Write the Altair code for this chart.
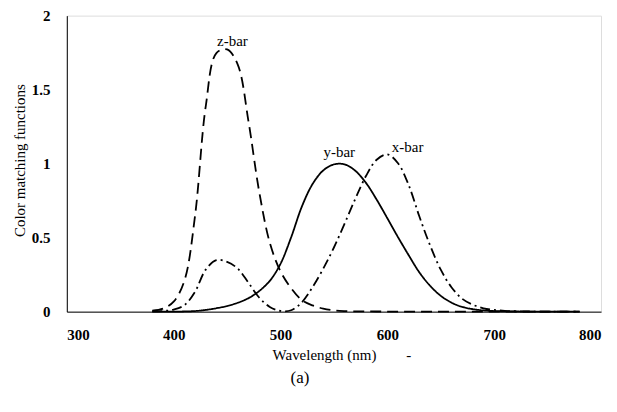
import altair as alt
import pandas as pd

wavelength = list(range(380, 790, 10))
x_bar = [0.001368, 0.004243, 0.01431, 0.04351, 0.13438, 0.2839, 0.34828, 0.3362, 0.2908, 0.19536,
         0.09564, 0.03201, 0.0049, 0.0093, 0.06327, 0.1655, 0.2904, 0.43345, 0.5945, 0.7621,
         0.9163, 1.0263, 1.0622, 1.0026, 0.85445, 0.6424, 0.4479, 0.2835, 0.1649, 0.0874,
         0.04677, 0.0227, 0.011359, 0.00579, 0.002899, 0.00144, 0.00069, 0.000332, 0.000166,
         0.000083, 0.000042]
y_bar = [0.000039, 0.00012, 0.000396, 0.00121, 0.004, 0.0116, 0.023, 0.038, 0.06, 0.09098,
         0.13902, 0.20802, 0.323, 0.503, 0.71, 0.862, 0.954, 0.99495, 0.995, 0.952,
         0.87, 0.757, 0.631, 0.503, 0.381, 0.265, 0.175, 0.107, 0.061, 0.032,
         0.017, 0.00821, 0.004102, 0.002091, 0.001047, 0.00052, 0.000249, 0.00012, 0.00006,
         0.00003, 0.000015]
z_bar = [0.00645, 0.02005, 0.06785, 0.2074, 0.6456, 1.3856, 1.74706, 1.77211, 1.6692, 1.28764,
         0.81295, 0.46518, 0.272, 0.1582, 0.07825, 0.04216, 0.0203, 0.00875, 0.0039, 0.0021,
         0.00165, 0.0011, 0.0008, 0.00034, 0.00019, 0.00005, 0.00002, 0, 0, 0,
         0, 0, 0, 0, 0, 0, 0, 0, 0, 0, 0]

series_names = ["x-bar", "y-bar", "z-bar"]
label_x = [619, 555, 455]
label_y = [1.11, 1.08, 1.83]

x_ticks = [300, 400, 500, 600, 700, 800]
y_ticks = [0, 0.5, 1, 1.5, 2]

rows = []
for name, vals in zip(series_names, [x_bar, y_bar, z_bar]):
    for w, v in zip(wavelength, vals):
        rows.append({"wavelength": w, "value": v, "series": name})
df = pd.DataFrame(rows)
labels = pd.DataFrame({"series": series_names, "wavelength": label_x, "value": label_y})

FONT = "Liberation Serif"

xscale = alt.Scale(domain=[300, 800], nice=False)
yscale = alt.Scale(domain=[0, 2], nice=False)

lines = alt.Chart(df).mark_line(color="black", strokeWidth=1.8, interpolate="catmull-rom").encode(
    x=alt.X("wavelength:Q", scale=xscale,
            axis=alt.Axis(values=x_ticks, title="Wavelength (nm)\u00a0\u00a0\u00a0\u00a0\u00a0\u00a0\u00a0\u00a0-",
                          grid=False, tickSize=0, labelPadding=16, labelFontSize=15,
                          labelFontWeight="bold", labelFont=FONT, labelColor="black",
                          titleFont=FONT, titleFontSize=15, titleFontWeight="normal",
                          titleColor="black", titleAlign="left", titleAnchor="start",
                          titleX=206, titleY=36, domainColor="black")),
    y=alt.Y("value:Q", scale=yscale,
            axis=alt.Axis(values=y_ticks, title="Color matching functions", format="~g",
                          grid=False, tickSize=0, labelPadding=17, labelFontSize=15,
                          labelFontWeight="bold", labelFont=FONT, labelColor="black",
                          titleFont=FONT, titleFontSize=15, titleFontWeight="normal",
                          titleColor="black", titleX=-47, titleY=145, titleBaseline="middle",
                          domainColor="black")),
    strokeDash=alt.StrokeDash("series:N",
                              scale=alt.Scale(domain=series_names,
                                              range=[[10, 4, 2, 4], [1, 0], [11, 6]]),
                              legend=None),
    detail="series:N",
)

text = alt.Chart(labels).mark_text(font=FONT, fontSize=15, color="black", baseline="middle").encode(
    x=alt.X("wavelength:Q", scale=xscale),
    y=alt.Y("value:Q", scale=yscale),
    text="series:N",
)

chart = alt.layer(lines, text).properties(
    width=536,
    height=297,
    autosize=alt.AutoSizeParams(type="none"),
    padding={"left": 59, "top": 7, "right": 8, "bottom": 90},
    title=alt.TitleParams(text="(a)", orient="bottom", anchor="middle", dx=-34, offset=8,
                          font=FONT, fontSize=17, fontWeight="normal", color="black",
                          baseline="top"),
).configure_view(stroke="#555", strokeWidth=1).configure(background="white")

chart.save("out.html", embed_options={"renderer": "svg", "actions": False})
